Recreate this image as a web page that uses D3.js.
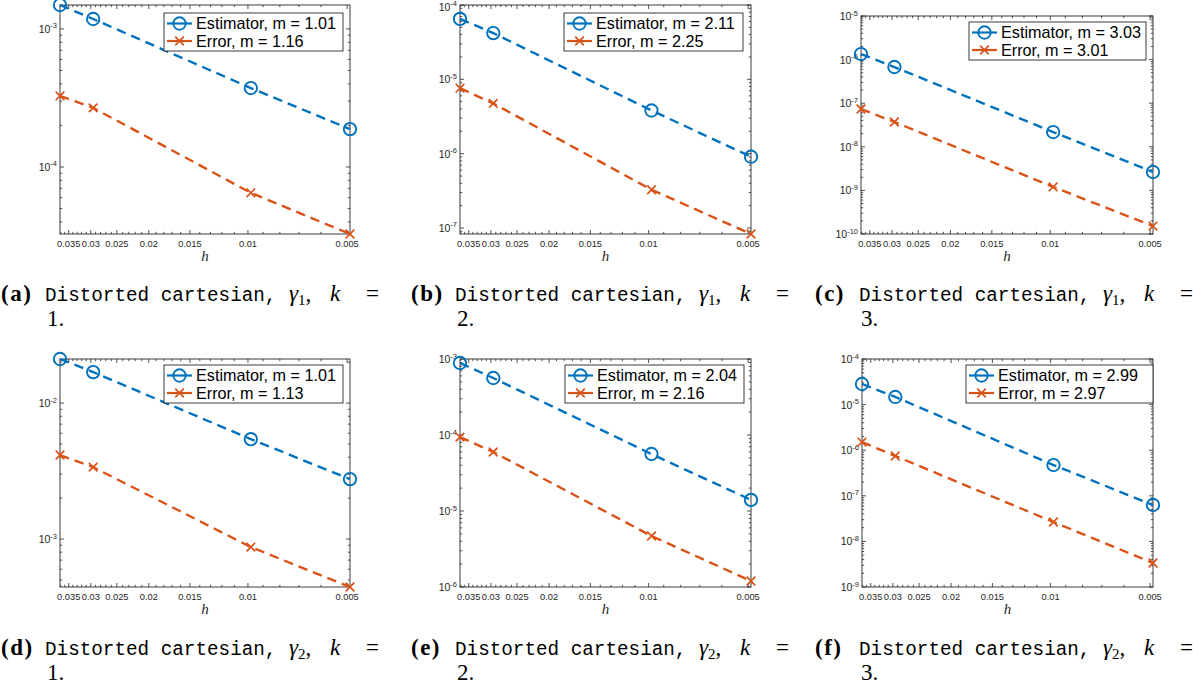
<!DOCTYPE html>
<html>
<head>
<meta charset="utf-8">
<script src="https://cdn.jsdelivr.net/npm/d3@7"></script>
<style>
  body { margin: 0; background: #fff; }
  svg { display: block; }
</style>
</head>
<body>
<svg id="fig" width="1193" height="688"></svg>
<script>
// mesh sizes (same for every panel)
const h = [0.0372, 0.0295, 0.0098, 0.0049];
const xTicks = [0.035, 0.03, 0.025, 0.02, 0.015, 0.01, 0.005];

// estimator / error values per panel
const estA = [1.49e-3, 1.18e-3, 3.73e-4, 1.88e-4];
const errA = [3.27e-4, 2.68e-4, 6.5e-5, 3.27e-5];
const estB = [6.5e-5, 4.19e-5, 3.81e-6, 9.1e-7];
const errB = [7.6e-6, 4.74e-6, 3.27e-7, 8.3e-8];
const estC = [1.34e-6, 6.76e-7, 2.18e-8, 2.64e-9];
const errC = [7.36e-8, 3.71e-8, 1.2e-9, 1.52e-10];
const estD = [2.11e-2, 1.69e-2, 5.43e-3, 2.76e-3];
const errD = [4.15e-3, 3.38e-3, 8.73e-4, 4.44e-4];
const estE = [8.86e-4, 5.62e-4, 5.62e-5, 1.4e-5];
const errE = [9.4e-5, 5.97e-5, 4.69e-6, 1.2e-6];
const estF = [2.83e-5, 1.47e-5, 4.73e-7, 6.28e-8];
const errF = [1.51e-6, 7.46e-7, 2.66e-8, 3.36e-9];

const slopeEst = ["1.01", "2.11", "3.03", "1.01", "2.04", "2.99"];
const slopeErr = ["1.16", "2.25", "3.01", "1.13", "2.16", "2.97"];
const yLimits = [[3.27e-5, 1.49e-3], [8.3e-8, 1e-4], [1e-10, 1e-5],
                 [4.44e-4, 2.11e-2], [1e-6, 1e-3], [1e-9, 1e-4]];
const letters = ["a", "b", "c", "d", "e", "f"];
const gammaIdx = ["1", "1", "1", "2", "2", "2"];
const kValues = ["1", "2", "3", "1", "2", "3"];

// layout of each axes box and its legend
const boxes = [
  {x0: 60, x1: 350, y0: 5, y1: 234, lx: 164, ly: 13, lw: 179},
  {x0: 460, x1: 751, y0: 5, y1: 234, lx: 564, ly: 13, lw: 179},
  {x0: 861, x1: 1153, y0: 16, y1: 234, lx: 969, ly: 22, lw: 177},
  {x0: 60, x1: 350, y0: 359, y1: 587, lx: 164, ly: 365, lw: 179},
  {x0: 460, x1: 751, y0: 359, y1: 587, lx: 565, ly: 365, lw: 179},
  {x0: 862, x1: 1153, y0: 359, y1: 587, lx: 966, ly: 365, lw: 187}
];
const captionX = [1, 411, 815];
const captionY = [301, 655];

const estSeries = [estA, estB, estC, estD, estE, estF];
const errSeries = [errA, errB, errC, errD, errE, errF];

const blue = "#0072BD", orange = "#D95319", axisCol = "#262626";
const svg = d3.select("#fig");
svg.append("rect").attr("width", 1193).attr("height", 688).attr("fill", "#fff");

letters.forEach((letter, i) => {
  const b = boxes[i];
  const g = svg.append("g");
  const x = d3.scaleLog().domain([h[0], h[h.length - 1]]).range([b.x0, b.x1]);
  const y = d3.scaleLog().domain(yLimits[i]).range([b.y1, b.y0]);

  // minor / major ticks on all four sides, pointing inward
  const xMinor = d3.range(5, 38).map(v => v / 1000).filter(v => v <= h[0] && v >= h[3]);
  const yMinor = [];
  const lo = Math.floor(Math.log10(yLimits[i][0])), hi = Math.ceil(Math.log10(yLimits[i][1]));
  for (let e = lo; e <= hi; e++) {
    for (let m = 1; m <= 9; m++) {
      const v = m * Math.pow(10, e);
      if (v >= yLimits[i][0] * 0.999 && v <= yLimits[i][1] * 1.001) yMinor.push({v, major: m === 1});
    }
  }
  const tickG = g.append("g").attr("stroke", axisCol).attr("stroke-width", 0.8);
  xMinor.forEach(v => {
    const major = xTicks.some(t => Math.abs(t - v) < 1e-9);
    const len = major ? 4 : 2.2;
    tickG.append("line").attr("x1", x(v)).attr("x2", x(v)).attr("y1", b.y1).attr("y2", b.y1 - len);
    tickG.append("line").attr("x1", x(v)).attr("x2", x(v)).attr("y1", b.y0).attr("y2", b.y0 + len);
  });
  yMinor.forEach(d => {
    const len = d.major ? 4 : 2.2;
    tickG.append("line").attr("x1", b.x0).attr("x2", b.x0 + len).attr("y1", y(d.v)).attr("y2", y(d.v));
    tickG.append("line").attr("x1", b.x1).attr("x2", b.x1 - len).attr("y1", y(d.v)).attr("y2", y(d.v));
  });

  g.append("rect").attr("x", b.x0).attr("y", b.y0)
    .attr("width", b.x1 - b.x0).attr("height", b.y1 - b.y0)
    .attr("fill", "none").attr("stroke", axisCol).attr("stroke-width", 0.9);

  // tick labels
  g.selectAll(".xl").data(xTicks).enter().append("text")
    .attr("x", d => x(d)).attr("y", b.y1 + 12.5)
    .attr("text-anchor", "middle")
    .attr("font-family", "Liberation Sans, Arial, sans-serif")
    .attr("font-size", 9.3).attr("fill", axisCol)
    .text(d => d3.format("")(d));
  yMinor.filter(d => d.major).forEach(d => {
    const t = g.append("text")
      .attr("x", b.x0 - 3).attr("y", Math.max(y(d.v) + 4, 10.5))
      .attr("text-anchor", "end")
      .attr("font-family", "Liberation Sans, Arial, sans-serif")
      .attr("font-size", 10.5).attr("fill", axisCol);
    t.append("tspan").text("10");
    t.append("tspan").attr("font-size", 7.5).attr("dy", -4.5)
      .text(Math.round(Math.log10(d.v)).toString());
  });
  g.append("text")
    .attr("x", (b.x0 + b.x1) / 2).attr("y", b.y1 + 27)
    .attr("text-anchor", "middle")
    .attr("font-family", "Liberation Serif, Times New Roman, serif")
    .attr("font-style", "italic").attr("font-size", 15).attr("fill", axisCol)
    .text("h");

  // series
  const line = d3.line().x((d, j) => x(h[j])).y(d => y(d));
  const series = [
    {vals: estSeries[i], color: blue, marker: "o", label: "Estimator, m = " + slopeEst[i]},
    {vals: errSeries[i], color: orange, marker: "x", label: "Error, m = " + slopeErr[i]}
  ];
  const drawMarker = (sel, cx, cy, s) => {
    if (s.marker === "o") {
      sel.append("circle").attr("cx", cx).attr("cy", cy).attr("r", 6.2)
        .attr("fill", "none").attr("stroke", s.color).attr("stroke-width", 1.9);
    } else {
      const r = 4.3;
      sel.append("path")
        .attr("d", `M${cx - r},${cy - r}L${cx + r},${cy + r}M${cx - r},${cy + r}L${cx + r},${cy - r}`)
        .attr("stroke", s.color).attr("stroke-width", 1.7).attr("fill", "none");
    }
  };
  series.forEach(s => {
    g.append("path").datum(s.vals).attr("d", line)
      .attr("fill", "none").attr("stroke", s.color)
      .attr("stroke-width", 2.4).attr("stroke-dasharray", "9.5,6");
    s.vals.forEach((v, j) => drawMarker(g, x(h[j]), y(v), s));
  });

  // legend
  const lg = g.append("g");
  lg.append("rect").attr("x", b.lx).attr("y", b.ly).attr("width", b.lw).attr("height", 38)
    .attr("fill", "#fff").attr("stroke", axisCol).attr("stroke-width", 0.9);
  series.forEach((s, k) => {
    const ry = b.ly + 10.5 + k * 17.5;
    lg.append("line").attr("x1", b.lx + 3).attr("x2", b.lx + 28)
      .attr("y1", ry).attr("y2", ry).attr("stroke", s.color).attr("stroke-width", 2.2);
    drawMarker(lg, b.lx + 15.5, ry, s);
    lg.append("text").attr("x", b.lx + 32).attr("y", ry + 5.6)
      .attr("font-family", "Liberation Sans, Arial, sans-serif")
      .attr("font-size", 16.2).attr("fill", "#000")
      .text(s.label);
  });

  // caption
  const cx = captionX[i % 3], cy = captionY[Math.floor(i / 3)];
  const cap = svg.append("g").attr("fill", "#000");
  cap.append("text").attr("x", cx).attr("y", cy)
    .attr("font-family", "Liberation Serif, serif").attr("font-weight", "bold")
    .attr("font-size", 23).attr("letter-spacing", 1.5).text("(" + letter + ")");
  cap.append("text").attr("x", cx + 44).attr("y", cy)
    .attr("font-family", "Liberation Mono, DejaVu Sans Mono, monospace")
    .attr("font-size", 19.3).text("Distorted cartesian,");
  const gm = cap.append("text").attr("x", cx + 288).attr("y", cy)
    .attr("font-family", "Liberation Serif, serif").attr("font-size", 23);
  gm.append("tspan").attr("font-style", "italic").text("γ");
  gm.append("tspan").attr("font-size", 15).attr("dy", 4).text(gammaIdx[i]);
  gm.append("tspan").attr("dy", -4).text(",");
  cap.append("text").attr("x", cx + 329).attr("y", cy)
    .attr("font-family", "Liberation Serif, serif").attr("font-style", "italic")
    .attr("font-size", 23).text("k");
  cap.append("text").attr("x", cx + 365).attr("y", cy)
    .attr("font-family", "Liberation Serif, serif")
    .attr("font-size", 23).text("=");
  cap.append("text").attr("x", cx + 46).attr("y", cy + 25)
    .attr("font-family", "Liberation Serif, serif")
    .attr("font-size", 23).text(kValues[i] + ".");
});
</script>
</body>
</html>
